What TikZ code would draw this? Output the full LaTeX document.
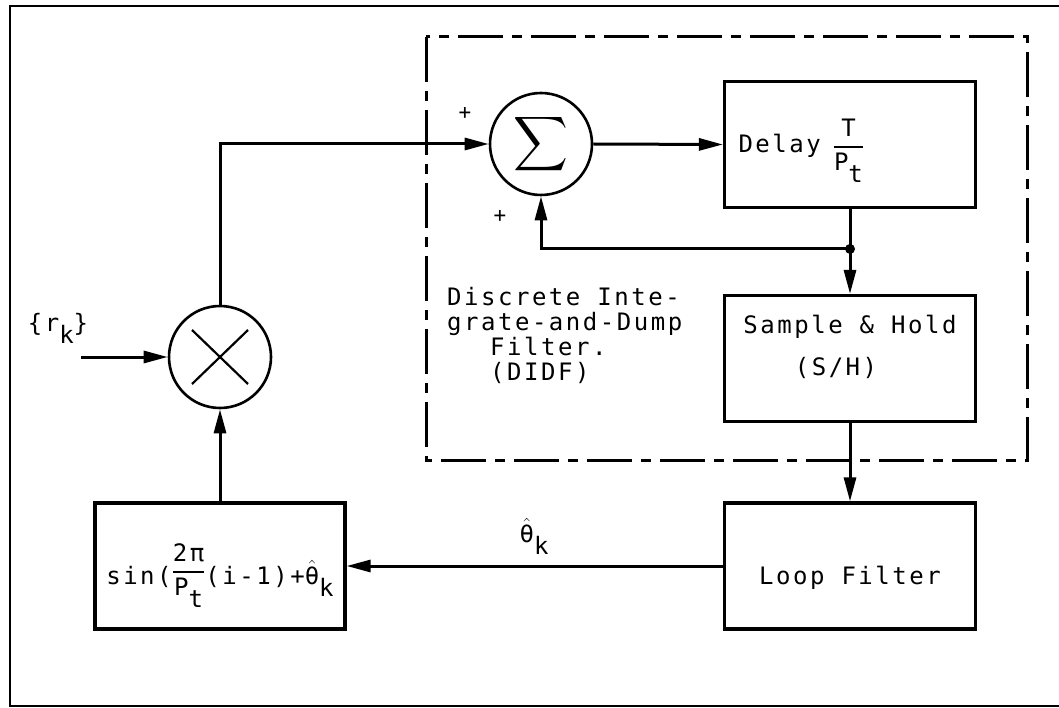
\documentclass[tikz,border=0pt]{standalone}
\usepackage{amsmath}
\usepackage{fontspec}
\usepackage{graphicx}
\usetikzlibrary{arrows.meta, positioning, calc}
\newfontfamily\twfont[LetterSpace=10.5]{DejaVu Sans Mono}
\newcommand\didffont{\twfont\fontsize{24}{25}\selectfont}
\newcommand\lowr[1]{\raisebox{-0.5em}{#1}}
\newcommand\ffrac[2]{\ensuremath{\genfrac{}{}{1.6pt}{0}{\hbox{#1}}{\hbox{#2}}}}
\newcommand\thhat{\ensuremath{\hat{\hbox{θ}}}}

\begin{document}
\begin{tikzpicture}[
        x=1pt,
        y=-1pt,
        blk/.style={draw, line width=3.2pt, minimum width=251pt, minimum height=126pt, inner xsep=14pt, inner ysep=0pt, font=\didffont},
        sumnode/.style={circle, draw, line width=2.6pt, minimum size=102pt, inner sep=0pt},
        xline/.style={line width=2.2pt},
        arr/.style={line width=3pt, -{Triangle[length=24pt, width=12pt]}},
        didf/.style={line width=3pt, dash pattern=on 45pt off 9pt on 10pt off 9pt},
        outerframe/.style={line width=2.6pt},
        lbl/.style={font=\didffont, inner sep=0pt},
        sgn/.style={font=\twfont\fontsize{21}{21}\selectfont, inner sep=0pt}
    ]
        \useasboundingbox (0,0) rectangle (1059,708);
        \fill[white] (0,0) rectangle (1059,708);
        \draw[outerframe] (1059,6) -- (10,6) -- (10,706) -- (1059,706);

        % integrate-and-dump part
        \draw[didf] (426,37) rectangle (1027,460);
        \node[sumnode] (sum) at (541,144) {\scalebox{3.8}{$\displaystyle\sum$}};
        \node[sgn] (plusa) at (465,113) {+};
        \node[sgn] (plusb) at (500,216) {+};
        \node[blk, text width=223pt, align=left, text height=26pt, text depth=9pt] (delay) at (850,144.5) {Delay\hspace{12pt}\ffrac{T}{P\lowr{t}}};
        \node[blk, align=center, text height=40pt, text depth=7pt] (sh) at (850,358.5) {Sample \& Hold\\[17pt](S/H)\hspace*{28pt}};
        \node[lbl, anchor=north west, align=left] (didftxt) at (447,287) {Discrete Inte-\\grate-and-Dump\\\hspace*{43pt}Filter.\\\hspace*{43pt}(DIDF)};

        % loop
        \node[blk, text height=42pt, text depth=5pt] (loop) at (850,566) {Loop Filter};
        \node[blk, minimum width=250pt, inner xsep=2pt, text height=44pt, text depth=8pt] (sinb) at (220,566) {sin(\raisebox{6pt}{\ffrac{2π}{P\lowr{t}}}(i-1)+\thhat\lowr{k}};
        \node[sumnode] (mult) at (220,357) {};
        \draw[xline] ($(mult)+(-28,-27)$) -- ($(mult)+(28,27)$);
        \draw[xline] ($(mult)+(-28,27)$) -- ($(mult)+(28,-27)$);
        \node[lbl] (rlab) at (58,328) {\{r\lowr{k}\}};
        \node[lbl] (thlab) at (534,536) {\thhat\lowr{k}};

        \coordinate (rin) at (81,357);
        \coordinate (jn) at ($(delay.south)!0.47!(sh.north)$);
        \draw[arr] (rin) -- (mult.west);
        \draw[arr] (mult.north) |- (sum.west);
        \draw[arr] (sum.east) -- (delay.west);
        \draw[arr] (delay.south) -- (sh.north);
        \draw[arr] (jn) -| (sum.south);
        \fill (jn) circle (5pt);
        \draw[arr] (sh.south) -- (loop.north);
        \draw[arr] (loop.west) -- (sinb.east);
        \draw[arr] (sinb.north) -- (mult.south);
    \end{tikzpicture}
\end{document}
